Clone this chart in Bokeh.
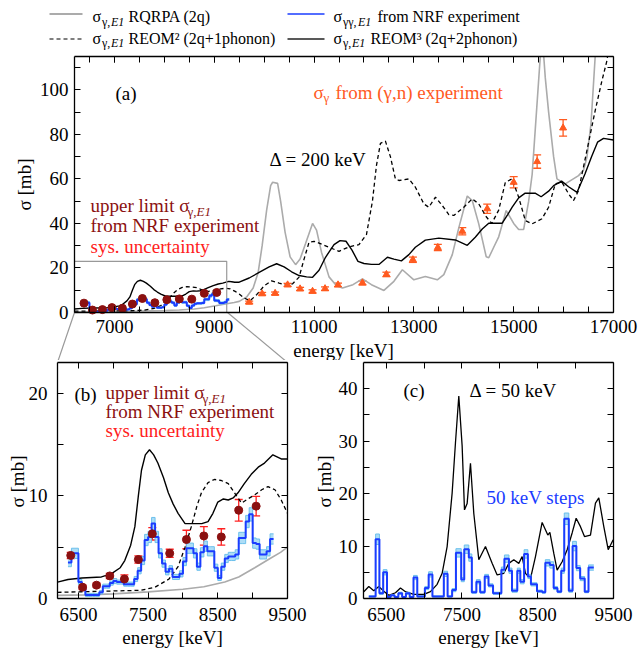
import math
from bokeh.plotting import figure
from bokeh.models import (FixedTicker, LinearAxis, Label, Whisker, TeeHead, ColumnDataSource)
from bokeh.layouts import column, row
from bokeh.embed import file_html
from bokeh.resources import INLINE

FONT = "Liberation Serif"
FS = "19px"
SUB = "13px"
LFS = "16px"
LSUB = "12px"

# ---------------- data ----------------
# RQRPA (2q), grey line
rqrpa_E = [6200, 6600, 7000, 7500, 8000, 8300, 8600, 8800, 9030, 9250, 9400, 9500, 9650, 9780,
           9880, 9960, 10050, 10130, 10170, 10270, 10330, 10420, 10520, 10630, 10720, 10830,
           10970, 11050, 11150, 11300, 11450, 11570, 11780, 11970, 12150, 12400, 12600, 12770,
           13000, 13230, 13470, 13600, 13770, 13900, 14070, 14170, 14300, 14450, 14500, 14600,
           14700, 14850, 15000, 15100, 15200, 15300, 15370, 15450, 15533, 15580, 15633, 15700,
           15800, 15867, 16033, 16300, 16400, 16467, 16550, 16633, 16700]
rqrpa_S = [0.3, 0.35, 0.45, 0.65, 0.9, 1.15, 1.6, 2.1, 3.0, 3.9, 4.5, 5.0, 7.0, 11.0,
           18.0, 30.0, 46.0, 57.0, 58.5, 58.0, 50.0, 36.0, 25.0, 21.5, 24.0, 31.0,
           40.0, 37.0, 27.0, 16.0, 12.0, 11.0, 12.5, 15.1, 12.5, 9.9, 14.0, 19.2,
           14.7, 16.2, 14.7, 17.0, 26.0, 38.0, 52.3, 50.3, 39.8, 25.0, 24.6, 29.3,
           34.0, 45.8, 40.0, 37.3, 37.3, 50.0, 62.0, 88.0, 115.0, 122.0, 105.5, 90.0,
           70.0, 60.0, 57.8, 61.5, 64.0, 69.7, 85.0, 115.0, 130.0]

# REOM^2 (2q+1phonon), dashed
reom2_E = [6200, 6800, 7400, 7600, 7800, 7930, 8030, 8120, 8200, 8265, 8360, 8450, 8550, 8650,
           8750, 8840, 8930, 9030, 9130, 9220, 9320, 9410, 9500, 9600, 9720, 9850, 10000,
           10150, 10300, 10450, 10570, 10700, 10800, 10900, 11000, 11100, 11300, 11500, 11700,
           11900, 12050, 12170, 12250, 12330, 12430, 12530, 12630, 12700, 12900, 13030, 13200,
           13300, 13433, 13567, 13700, 13800, 14000, 14170, 14300, 14450, 14560, 14700, 14833,
           14967, 15100, 15233, 15367, 15567, 15700, 15833, 15967, 16100, 16200, 16300, 16467,
           16633, 16767, 16867, 16950]
reom2_S = [0.6, 0.7, 0.8, 1.1, 1.9, 3.1, 5.0, 7.0, 9.0, 10.3, 11.3, 11.6, 11.5, 11.2,
           10.2, 9.3, 9.7, 10.1, 10.6, 10.9, 10.6, 9.6, 8.3, 6.5, 5.3, 8.0, 12.0,
           14.2, 13.2, 12.3, 12.9, 15.9, 24.0, 31.6, 32.0, 31.2, 29.3, 27.5, 29.5,
           30.5, 35.0, 50.0, 66.0, 76.0, 77.0, 70.0, 60.0, 59.3, 60.0, 56.3, 48.8,
           47.3, 51.8, 48.1, 44.0, 43.6, 47.3, 51.1, 48.8, 43.0, 40.0, 46.0, 58.5,
           60.0, 51.8, 41.3, 39.8, 42.1, 47.3, 57.8, 58.5, 53.3, 50.3, 54.8, 72.7,
           90.7, 104.0, 113.0, 125.0]

# REOM^3 (2q+2phonon), Delta = 200 keV, solid black
reom3_E = [6200, 6350, 6550, 6830, 6970, 7100, 7165, 7250, 7310, 7360, 7405, 7460, 7520, 7580,
           7640, 7720, 7790, 7860, 7930, 8030, 8150, 8270, 8360, 8430, 8500, 8580, 8650, 8720,
           8790, 8880, 8980, 9080, 9170, 9290, 9350, 9410, 9500, 9700, 9900, 10100, 10250,
           10400, 10550, 10700, 10850, 10970, 11100, 11230, 11400, 11520, 11640, 11760, 11880,
           12000, 12150, 12300, 12470, 12600, 12750, 12900, 13030, 13230, 13500, 13830, 14070,
           14230, 14370, 14500, 14770, 14880, 14970, 15100, 15230, 15430, 15550, 15700, 15800,
           15960, 16100, 16270, 16430, 16560, 16680, 16800, 17000]
reom3_S = [1.6, 1.85, 2.0, 2.1, 2.4, 3.0, 3.7, 5.2, 7.0, 10.0, 12.5, 14.0, 14.5, 14.0,
           13.2, 11.8, 10.3, 9.2, 8.3, 7.3, 7.3, 7.3, 7.5, 8.3, 9.4, 9.7, 9.6, 9.8,
           10.3, 11.2, 12.1, 12.8, 13.2, 14.0, 13.8, 13.6, 13.6, 15.5, 18.0, 20.5, 21.9,
           20.5, 18.3, 16.6, 16.0, 15.8, 19.0, 24.8, 30.5, 32.3, 32.0, 28.0, 23.0,
           22.0, 21.6, 21.6, 24.8, 24.0, 23.2, 26.0, 29.3, 32.5, 33.4, 32.6, 30.2,
           33.8, 37.5, 40.1, 40.1, 44.0, 47.3, 51.5, 53.6, 53.6, 52.0, 54.5, 57.0,
           59.0, 56.5, 54.0, 62.3, 70.0, 76.5, 78.2, 77.5]

# REOM^3, Delta = 50 keV (panel c)
reom3c_E = [6204, 6270, 6336, 6402, 6459, 6534, 6622, 6688, 6754, 6864, 6996, 7084, 7172, 7238,
            7304, 7370, 7414, 7458, 7502, 7533, 7568, 7612, 7656, 7722, 7810, 7898, 7964, 8052,
            8118, 8184, 8250, 8294, 8338, 8404, 8470, 8558, 8633, 8660, 8712, 8756, 8822, 8888,
            8954, 9007, 9064, 9117, 9196, 9262, 9306, 9372, 9430, 9496]
reom3c_S = [1.3, 2.3, 1.5, 2.3, 1.5, 0.6, 1.1, 2.0, 1.3, 0.8, 0.8, 1.3, 2.7, 4.8,
            9.9, 20.1, 29.7, 38.6, 29.1, 16.9, 18.1, 25.8, 16.2, 7.4, 9.9, 6.7, 4.5, 4.8,
            6.7, 7.4, 6.7, 8.0, 4.8, 3.8, 8.0, 14.5, 12.1, 12.6, 8.6, 5.4, 7.0, 9.3,
            12.5, 15.3, 13.7, 11.8, 12.1, 18.2, 19.2, 13.7, 9.3, 11.2]

# sigma_gamma from (gamma,n) experiment
gn_E = [9700, 9960, 10220, 10470, 10720, 10970, 11220, 11480, 11970, 12450, 12980, 13480,
        13970, 14470, 15000, 15470, 15990]
gn_S = [4.6, 8.4, 8.6, 12.4, 10.6, 9.5, 10.7, 12.4, 13.3, 17.1, 23.7, 29.2,
        36.5, 46.6, 58.5, 67.8, 82.9]
gn_err = [0.5, 0.6, 0.6, 0.7, 0.7, 0.7, 0.8, 0.8, 0.9, 1.0, 1.2, 1.4,
          1.6, 2.1, 2.5, 3.0, 3.7]

# upper limit sigma_gamma,E1 from NRF experiment (+ sys. uncertainty)
nrf_E = [6390, 6560, 6760, 6950, 7160, 7360, 7560, 7810, 8050, 8300, 8550, 8800, 9050]
nrf_S = [4.2, 1.1, 1.3, 2.2, 1.9, 3.8, 6.3, 4.4, 5.75, 6.1, 6.0, 8.6, 9.0]
nrf_err = [0.3, 0.2, 0.2, 0.25, 0.4, 0.35, 0.6, 0.4, 0.9, 0.9, 0.8, 1.05, 0.95]

# sigma_gammagamma,E1 from NRF experiment, 200 keV averaged, 50 keV steps
b_edges = list(range(6350, 9301, 50))
b_vals = [3.5, 4.4, 4.4, 1.6, 1.1, 0.35, 0.35, 0.35, 0.35, 0.6,
          1.2, 1.2, 1.5, 1.7, 1.6, 1.6, 1.4, 1.4, 1.4, 1.9,
          2.7, 3.7, 5.7, 6.0, 7.3, 6.0, 4.4, 3.4, 2.6, 2.9,
          2.1, 2.1, 2.4, 3.6, 4.9, 4.9, 4.4, 3.1, 4.5, 5.1,
          4.6, 4.6, 3.0, 2.0, 3.1, 3.9, 4.1, 4.1, 4.3, 5.9,
          5.9, 7.5, 8.2, 5.4, 5.3, 4.3, 4.3, 4.6, 5.8]
b_unc = [0.4, 0.5, 0.5, 0.25, 0.2, 0.15, 0.15, 0.15, 0.15, 0.15,
         0.2, 0.2, 0.2, 0.25, 0.2, 0.2, 0.2, 0.2, 0.2, 0.25,
         0.3, 0.4, 0.55, 0.55, 0.6, 0.55, 0.45, 0.35, 0.3, 0.3,
         0.25, 0.25, 0.3, 0.4, 0.5, 0.5, 0.45, 0.35, 0.45, 0.5,
         0.45, 0.45, 0.35, 0.25, 0.35, 0.4, 0.4, 0.4, 0.45, 0.55,
         0.55, 0.6, 0.65, 0.5, 0.5, 0.45, 0.45, 0.45, 0.5]

# sigma_gammagamma,E1 from NRF experiment in 50 keV steps (panel c)
c_edges = [6270, 6360, 6410, 6460, 6510, 6560, 6610, 6660, 6710, 6760, 6810, 6860, 6910, 7010,
           7060, 7110, 7260, 7310, 7370, 7420, 7490, 7530, 7590, 7630, 7690, 7740, 7800, 7850,
           7910, 8020, 8060, 8120, 8160, 8230, 8270, 8320, 8370, 8410, 8490, 8560, 8600, 8660,
           8710, 8760, 8810, 8850, 8910, 8960, 9010, 9060, 9120, 9170, 9240]
c_vals = [0.4, 11.3, 1.0, 5.0, 0.3, 0.6, 0.3, 1.0, 0.3, 1.0, 0.3, 4.0, 0.4, 2.0, 4.6, 0.4,
          4.7, 0.4, 1.6, 8.7, 3.6, 9.4, 7.8, 1.2, 3.2, 1.2, 4.2, 2.5, 1.0, 5.5, 7.6, 5.3,
          1.5, 5.3, 3.2, 8.5, 4.2, 2.7, 1.4, 1.2, 6.8, 6.4, 2.0, 1.3, 5.3, 15.2, 1.5, 10.0,
          5.8, 3.8, 1.3, 5.9]
c_unc = [0.1, 1.0, 0.2, 0.5, 0.1, 0.1, 0.1, 0.2, 0.1, 0.2, 0.1, 0.4, 0.1, 0.3, 0.5, 0.1,
         0.5, 0.1, 0.3, 0.8, 0.4, 0.8, 0.7, 0.2, 0.4, 0.2, 0.4, 0.3, 0.2, 0.5, 0.7, 0.5,
         0.3, 0.5, 0.4, 0.8, 0.4, 0.3, 0.2, 0.2, 0.6, 0.6, 0.3, 0.2, 0.5, 1.1, 0.3, 0.9,
         0.5, 0.4, 0.2, 0.5]

# zoom window shown in (a), axis ranges and ticks
zoom_x = (6200, 9250)
zoom_y = 23
a_xr, a_yr = (6200, 17000), (0, 115)
b_xr, b_yr = (6200, 9500), (0, 23)
c_xr, c_yr = (6200, 9500), (0, 45)
a_xt = [7000, 9000, 11000, 13000, 15000, 17000]
a_xm = list(range(6500, 17000, 500))
a_yt = [0, 20, 40, 60, 80, 100]
a_ym = [10, 30, 50, 70, 90, 110]
bc_xt = [6500, 7500, 8500, 9500]
bc_xm = [7000, 8000, 9000]
b_yt = [0, 10, 20]
b_ym = [5, 15]
c_yt = [0, 10, 20, 30, 40]
c_ym = [5, 15, 25, 35]

# colours
GREY = "#ababab"
BLUE = "#1a3cff"
LBLUE = "#a9dbf5"
LBLUE_E = "#6cc0ec"
MAROON = "#8b1010"
RED = "#ff2020"
ORANGE = "#ff5a1f"


# ---------------- helpers ----------------
class Panel:
    """A figure whose frame fills the whole canvas; the data box sits at given canvas pixels."""

    def __init__(self, ox, oy, w, h, box, xr, yr):
        cx0, cx1, cyt, cyb = box
        kx = (xr[1] - xr[0]) / (cx1 - cx0)
        ky = (yr[1] - yr[0]) / (cyb - cyt)
        self.fx = lambda cx: xr[0] + (cx - cx0) * kx
        self.fy = lambda cy: yr[0] + (cyb - cy) * ky
        self.xr, self.yr = xr, yr
        self.p = figure(width=w, height=h, x_range=(self.fx(ox), self.fx(ox + w)),
                        y_range=(self.fy(oy + h), self.fy(oy)), output_backend="svg",
                        toolbar_location=None, x_axis_type=None, y_axis_type=None,
                        min_border=0, min_border_left=0, min_border_right=0,
                        min_border_top=0, min_border_bottom=0)
        self.p.outline_line_color = None
        self.p.background_fill_color = "white"
        self.p.border_fill_color = "white"

    def axes(self, xt, xm, yt, ym, xs, ys):
        def mk(loc, bounds, ticks, minor, labels, standoff):
            ax = LinearAxis(fixed_location=loc, bounds=bounds,
                            ticker=FixedTicker(ticks=ticks, minor_ticks=minor))
            ax.major_tick_in = 6
            ax.major_tick_out = 0
            ax.minor_tick_in = 6
            ax.minor_tick_out = 0
            ax.major_tick_line_color = "black"
            ax.minor_tick_line_color = "black"
            ax.axis_line_color = "black"
            ax.axis_line_width = 1.3
            ax.major_label_text_font = FONT
            ax.major_label_text_font_size = FS
            ax.major_label_text_color = "black"
            ax.major_label_standoff = standoff
            if not labels:
                ax.major_label_text_font_size = "0px"
                ax.major_label_standoff = 0
                ax.major_label_overrides = {t: "" for t in ticks}
            return ax
        p = self.p
        p.add_layout(mk(self.yr[0], self.xr, xt, xm, True, xs), "below")
        p.add_layout(mk(self.yr[1], self.xr, xt, xm, False, 0), "above")
        p.add_layout(mk(self.xr[0], self.yr, yt, ym, True, ys), "left")
        p.add_layout(mk(self.xr[1], self.yr, yt, ym, False, 0), "right")

    def mask(self):
        # white cover outside the data box so that curves end at the frame
        p = self.p
        X0, X1 = p.x_range.start, p.x_range.end
        Y0, Y1 = p.y_range.start, p.y_range.end
        p.quad(left=[X0, self.xr[1], X0], right=[X1, X1, self.xr[0]],
               bottom=[self.yr[1], Y0, Y0], top=[Y1, Y1, Y1],
               fill_color="white", line_color=None)

    def text(self, cx, cy, text, size=FS, color="black", style="normal",
             align="left", angle=0.0):
        # (cx, cy) = left (or centre) x and vertical middle of the text, in canvas pixels
        self.p.add_layout(Label(x=self.fx(cx), y=self.fy(cy), text=text, text_font=FONT,
                                text_font_size=size, text_color=color,
                                text_font_style=style, text_align=align,
                                text_baseline="middle", angle=angle))

    def sigma(self, cx, cy, sub_plain, sub_it, it_dx, color, size=FS, sub=SUB,
              sdx=10, sdy=5.5):
        self.text(cx, cy, "σ", size=size, color=color)
        self.text(cx + sdx, cy + sdy, sub_plain, size=sub, color=color)
        if sub_it:
            self.text(cx + sdx + it_dx, cy + sdy, sub_it, size=sub, color=color, style="italic")

    def seg(self, cx0, cy0, cx1, cy1, color, width=1.0, dash="solid"):
        self.p.line([self.fx(cx0), self.fx(cx1)], [self.fy(cy0), self.fy(cy1)],
                    line_color=color, line_width=width, line_dash=dash)


def steps(p, edges, vals, unc, lw=2):
    xs = list(edges)
    ys = list(vals) + [vals[-1]]
    lo = [v - u for v, u in zip(vals, unc)]
    hi = [v + u for v, u in zip(vals, unc)]
    lo = lo + [lo[-1]]
    hi = hi + [hi[-1]]
    p.varea_step(x=xs, y1=lo, y2=hi, step_mode="after", fill_color=LBLUE, fill_alpha=0.95)
    p.step(xs, hi, mode="after", line_color=LBLUE_E, line_width=1)
    p.step(xs, lo, mode="after", line_color=LBLUE_E, line_width=1)
    p.step(xs, ys, mode="after", line_color=BLUE, line_width=lw)


def errorbars(p, xs, ys, errs, color, head):
    src = ColumnDataSource(dict(x=xs, lo=[y - e for y, e in zip(ys, errs)],
                                hi=[y + e for y, e in zip(ys, errs)]))
    p.add_layout(Whisker(base="x", lower="lo", upper="hi", source=src, dimension="height",
                         line_color=color, line_width=1.3,
                         upper_head=TeeHead(size=head, line_color=color, line_width=1.3),
                         lower_head=TeeHead(size=head, line_color=color, line_width=1.3)))


# ---------------- panel (a) ----------------
A = Panel(0, 0, 640, 360, (74, 613, 56, 312), a_xr, a_yr)
pa = A.p
pa.line(rqrpa_E, rqrpa_S, line_color=GREY, line_width=1.6)
pa.line(reom2_E, reom2_S, line_color="black", line_width=1.3, line_dash="4 3")
pa.line(reom3_E, reom3_S, line_color="black", line_width=1.4)
A.mask()
pa.line([zoom_x[0], zoom_x[1], zoom_x[1]], [zoom_y, zoom_y, 0], line_color="#999999",
        line_width=1.2)
steps(pa, b_edges, b_vals, b_unc, lw=2)
errorbars(pa, nrf_E, nrf_S, nrf_err, RED, 4)
pa.scatter(nrf_E, nrf_S, marker="circle", size=8, fill_color=MAROON, line_color=MAROON)
errorbars(pa, gn_E, gn_S, gn_err, ORANGE, 8)
pa.scatter(gn_E, gn_S, marker="triangle", size=7, fill_color=ORANGE, line_color=ORANGE)
A.axes(a_xt, a_xm, a_yt, a_ym, 7, 6)

A.text(115, 93, "(a)")
A.sigma(313, 91.5, "γ", None, 0, ORANGE)
A.text(335, 91.5, "from (γ,n) experiment", color=ORANGE)
A.text(269, 158.5, "Δ = 200 keV")
A.text(90, 205, "upper limit σ", color=MAROON)
A.text(187, 210.5, "γ,", size=SUB, color=MAROON)
A.text(196, 210.5, "E1", size=SUB, color=MAROON, style="italic")
A.text(90, 225, "from NRF experiment", color=MAROON)
A.text(90, 245.5, "sys. uncertainty", color=RED)
A.text(343, 349.5, "energy [keV]", align="center")
A.text(24, 184, "σ [mb]", align="center", angle=math.pi / 2)

# zoom connectors from (a) down to (b)
A.seg(74, 312, 57, 362, "#999999", 1.2)
A.seg(227, 312, 287, 362, "#999999", 1.2)

# legend above (a)
A.seg(49, 13.5, 82, 13.5, GREY, 2)
A.sigma(92, 16, "γ,", "E1", 9, "black", size=LFS, sub=LSUB, sdx=9.5, sdy=5)
A.text(128, 16, "RQRPA (2q)", size=LFS)
A.seg(287, 13.5, 324, 13.5, BLUE, 1.5)
A.sigma(333, 16, "γγ,", "E1", 15, "black", size=LFS, sub=LSUB, sdx=9.5, sdy=5)
A.text(377, 16, "from NRF experiment", size=LFS)
A.seg(49, 38.5, 82, 38.5, "black", 1.2, "4 3")
A.sigma(92, 37.5, "γ,", "E1", 9, "black", size=LFS, sub=LSUB, sdx=9.5, sdy=5)
A.text(128, 37.5, "REOM² (2q+1phonon)", size=LFS)
A.seg(287, 38.5, 324, 38.5, "#222222", 1.5)
A.sigma(333, 37.5, "γ,", "E1", 9, "black", size=LFS, sub=LSUB, sdx=9.5, sdy=5)
A.text(370, 37.5, "REOM³ (2q+2phonon)", size=LFS)

# ---------------- panel (b) ----------------
B = Panel(0, 360, 310, 292, (57, 287, 362, 598), b_xr, b_yr)
pb = B.p
pb.line(rqrpa_E, rqrpa_S, line_color=GREY, line_width=1.6)
pb.line(reom2_E, reom2_S, line_color="black", line_width=1.3, line_dash="4 3")
pb.line(reom3_E, reom3_S, line_color="black", line_width=1.4)
B.mask()
steps(pb, b_edges, b_vals, b_unc, lw=2)
errorbars(pb, nrf_E, nrf_S, nrf_err, RED, 8)
pb.scatter(nrf_E, nrf_S, marker="circle", size=8, fill_color=MAROON, line_color=MAROON)
B.axes(bc_xt, bc_xm, b_yt, b_ym, 9, 10)

B.text(74, 393.5, "(b)")
B.text(105, 392, "upper limit σ", color=MAROON)
B.text(202, 397.5, "γ,", size=SUB, color=MAROON)
B.text(211, 397.5, "E1", size=SUB, color=MAROON, style="italic")
B.text(105, 410.5, "from NRF experiment", color=MAROON)
B.text(105, 429.5, "sys. uncertainty", color=RED)
B.text(172, 637, "energy [keV]", align="center")
B.text(17, 481, "σ [mb]", align="center", angle=math.pi / 2)

# ---------------- panel (c) ----------------
C = Panel(310, 360, 330, 292, (363, 613, 362, 598), c_xr, c_yr)
pc = C.p
pc.line(reom3c_E, reom3c_S, line_color="black", line_width=1.3)
C.mask()
steps(pc, c_edges, c_vals, c_unc, lw=2)
C.axes(bc_xt, bc_xm, c_yt, c_ym, 9, 6)

C.text(403, 390, "(c)")
C.text(469, 390, "Δ = 50 keV")
C.text(486, 496.5, "50 keV steps", color=BLUE)
C.text(488, 636.5, "energy [keV]", align="center")
C.text(324, 481, "σ [mb]", align="center", angle=math.pi / 2)

layout = column(pa, row(pb, pc))
open("out.html", "w").write(file_html(layout, INLINE))
